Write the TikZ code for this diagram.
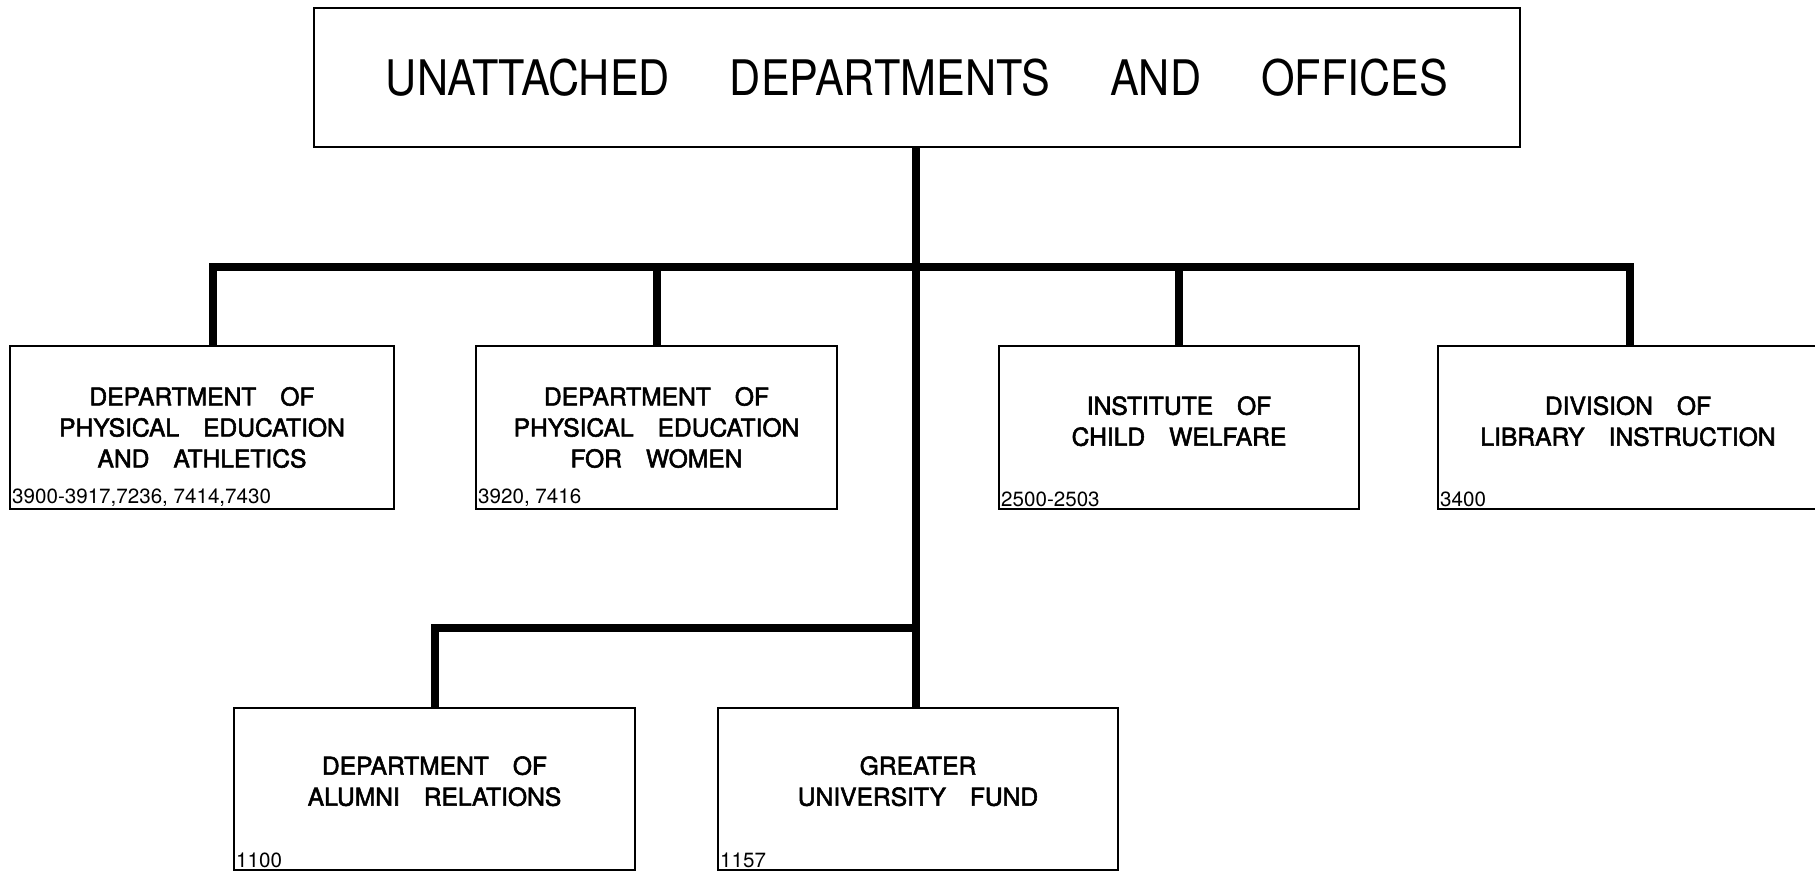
\documentclass[tikz,border=0pt]{standalone}
\usepackage{fontspec}
\setmainfont{TeX Gyre Heros}
\newfontfamily\titlefam[FakeStretch=0.88]{TeX Gyre Heros}
\newfontfamily\boxfam[FakeBold=2.2]{TeX Gyre Heros}
\newfontfamily\codefam{TeX Gyre Heros}
\newcommand{\titletext}{\titlefam\fontsize{24.5}{28}\selectfont\spaceskip=30pt\relax}
\newcommand{\boxtext}{\boxfam\fontsize{12.3}{15.5}\selectfont\spaceskip=12pt\relax}
\newcommand{\codetext}{\codefam\fontsize{10.3}{12}\selectfont}
\usetikzlibrary{positioning}

\begin{document}
\begin{tikzpicture}[x=0.5pt,y=-0.5pt,
    office/.style={draw, line width=1.2pt, align=center, font=\boxtext,
        minimum height=81.5pt, inner sep=0pt},
    code/.style={anchor=south west, font=\codetext, inner sep=1.5pt},
    link/.style={line width=4pt}]
    \useasboundingbox[fill=white] (0,0) rectangle (1815,871);

    % Head office
    \node[office, font=\titletext, minimum width=603pt, minimum height=69.5pt] (top) at (917,77.5)
        {UNATTACHED DEPARTMENTS AND OFFICES};

    % First row
    \node[office, minimum width=192pt] (pe) at (202,427.5)
        {DEPARTMENT OF\\PHYSICAL EDUCATION\\AND ATHLETICS};
    \node[office, minimum width=180.5pt] (pew) at (656.5,427.5)
        {DEPARTMENT OF\\PHYSICAL EDUCATION\\FOR WOMEN};
    \node[office, minimum width=180pt] (icw) at (1179,427.5)
        {INSTITUTE OF\\CHILD WELFARE\\[-9pt]};
    \node[office, minimum width=190pt] (lib) at (1628,427.5)
        {DIVISION OF\\LIBRARY INSTRUCTION\\[-9pt]};

    % Second row
    \node[office, minimum width=200.5pt, minimum height=81pt] (alum) at (434.5,789)
        {DEPARTMENT OF\\ALUMNI RELATIONS\\[-7.5pt]};
    \node[office, minimum width=200pt, minimum height=81pt] (guf) at (918,789)
        {GREATER\\UNIVERSITY FUND\\[-7.5pt]};

    % Account numbers
    \node[code] (pe-code) at (pe.south west) {3900-3917,7236, 7414,7430};
    \node[code] (pew-code) at (pew.south west) {3920, 7416};
    \node[code] (icw-code) at (icw.south west) {2500-2503};
    \node[code] (lib-code) at (lib.south west) {3400};
    \node[code] (alum-code) at (alum.south west) {1100};
    \node[code] (guf-code) at (guf.south west) {1157};

    % Connectors
    \coordinate (bar) at (916,267);
    \coordinate (bar2) at (916,628);
    \draw[link] (top.south -| bar) -- (guf.north -| bar);
    \draw[link] ([xshift=5.5pt]pe.north) |- (bar) -| ([xshift=1pt]lib.north);
    \draw[link] (pew.north) -- (pew.north |- bar);
    \draw[link] (icw.north) -- (icw.north |- bar);
    \draw[link] (alum.north) |- (bar2);
\end{tikzpicture}
\end{document}
